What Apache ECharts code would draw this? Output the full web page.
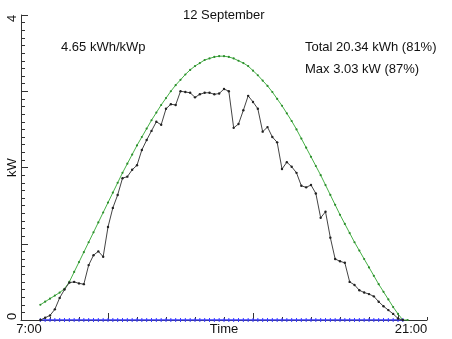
<!DOCTYPE html>
<html><head><meta charset="utf-8">
<script src="https://cdn.jsdelivr.net/npm/echarts@6/dist/echarts.min.js"></script>
<style>html,body{margin:0;padding:0;background:#fff}#c{width:452px;height:339px}</style>
</head><body><div id="c"></div>
<script>
// ---- data ----
const titleText = '12 September';
const yieldText = '4.65 kWh/kWp';
const totalText = 'Total 20.34 kWh (81%)';
const maxText = 'Max 3.03 kW (87%)';
const xAxisName = 'Time';
const yAxisName = 'kW';
const xTickValues = [7, 21];
const xTickLabels = ['7:00', '21:00'];
const xMajorTicks = [10, 15, 20];
const yTickValues = [0, 4];
const yTickLabels = ['0', '4'];

const times = ['7:40','7:50',
 '8:00','8:10','8:20','8:30','8:40','8:50',
 '9:00','9:10','9:20','9:30','9:40','9:50',
 '10:00','10:10','10:20','10:30','10:40','10:50',
 '11:00','11:10','11:20','11:30','11:40','11:50',
 '12:00','12:10','12:20','12:30','12:40','12:50',
 '13:00','13:10','13:20','13:30','13:40','13:50',
 '14:00','14:10','14:20','14:30','14:40','14:50',
 '15:00','15:10','15:20','15:30','15:40','15:50',
 '16:00','16:10','16:20','16:30','16:40','16:50',
 '17:00','17:10','17:20','17:30','17:40','17:50',
 '18:00','18:10','18:20','18:30','18:40','18:50',
 '19:00','19:10','19:20','19:30','19:40','19:50',
 '20:00','20:10','20:20'];

const actualKW = [0.00,0.03,0.06,0.14,0.29,0.40,0.49,0.50,0.48,0.47,
 0.72,0.85,0.90,0.83,1.22,1.47,1.64,1.86,1.88,1.97,
 2.03,2.23,2.36,2.48,2.60,2.56,2.77,2.83,2.82,3.00,
 2.99,2.98,2.92,2.96,2.98,2.98,2.96,2.97,3.03,3.00,
 2.52,2.57,2.75,2.94,2.86,2.77,2.47,2.53,2.40,2.33,
 1.98,2.07,2.01,1.93,1.76,1.74,1.77,1.66,1.34,1.42,
 1.08,0.80,0.77,0.75,0.50,0.46,0.39,0.36,0.34,0.31,
 0.24,0.18,0.13,0.08,0.02,0.00];

const clearSkyKW = [0.20,0.24,0.28,0.32,0.36,0.41,0.50,0.63,0.76,0.89,
 1.02,1.15,1.28,1.41,1.54,1.67,1.80,1.93,2.05,2.17,
 2.29,2.40,2.51,2.62,2.72,2.82,2.91,3.00,3.08,3.15,
 3.22,3.28,3.33,3.37,3.41,3.43,3.45,3.46,3.46,3.45,
 3.43,3.40,3.37,3.33,3.27,3.21,3.14,3.07,2.99,2.90,
 2.81,2.71,2.61,2.50,2.38,2.26,2.14,2.02,1.90,1.77,
 1.64,1.51,1.38,1.26,1.14,1.02,0.91,0.80,0.69,0.58,
 0.47,0.37,0.27,0.17,0.08,0.00,0.00];

const baselineKW = [0,0,0,0,0,0,0,0,0,0, 0,0,0,0,0,0,0,0,0,0,
 0,0,0,0,0,0,0,0,0,0, 0,0,0,0,0,0,0,0,0,0,
 0,0,0,0,0,0,0,0,0,0, 0,0,0,0,0,0,0,0,0,0,
 0,0,0,0,0,0,0,0,0,0, 0,0,0,0,0,0];

// ---- build ----
function toHours(s){ const p = s.split(':'); return +p[0] + (+p[1]) / 60; }
function pairs(vals){ return vals.map((v, i) => [toHours(times[i]), v]); }

const FONT = 'Liberation Sans';
const TXT = '#111';
const AX = '#333';

const chart = echarts.init(document.getElementById('c'), null, {renderer: 'canvas'});
chart.setOption({
  animation: false,
  backgroundColor: '#fff',
  textStyle: {fontFamily: FONT},
  title: {
    text: titleText, left: 183, top: 9, padding: 0,
    textStyle: {fontFamily: FONT, fontSize: 13, fontWeight: 'normal', color: TXT}
  },
  graphic: [
    {type: 'text', left: 61, top: 41, style: {text: yieldText, font: '13px "Liberation Sans"', fill: TXT}},
    {type: 'text', left: 305, top: 41, style: {text: totalText, font: '13px "Liberation Sans"', fill: TXT}},
    {type: 'text', left: 305, top: 63, style: {text: maxText, font: '13px "Liberation Sans"', fill: TXT}}
  ],
  grid: {left: 21, right: 25, top: 15, bottom: 19, containLabel: false, outerBoundsMode: 'none'},
  xAxis: [{
    type: 'value', min: 7, max: 21, interval: 1, position: 'bottom',
    axisLine: {show: true, lineStyle: {color: AX, width: 1}},
    axisTick: {show: true, inside: true, length: 3, lineStyle: {color: AX}},
    splitLine: {show: false},
    axisLabel: {
      customValues: xTickValues, margin: 3, fontSize: 13, color: TXT, fontFamily: FONT, hideOverlap: false,
      formatter: v => { const i = xTickValues.indexOf(v); return i === 0 ? '{l|' + xTickLabels[0] + '}' : (i === 1 ? '{r|' + xTickLabels[1] + '}' : ''); },
      rich: {
        l: {fontSize: 13, fontFamily: FONT, color: TXT, padding: [0, 0, 0, 16]},
        r: {fontSize: 13, fontFamily: FONT, color: TXT, padding: [0, 32, 0, 0]}
      }
    },
    name: xAxisName, nameLocation: 'middle', nameGap: 3, nameMoveOverlap: false,
    nameTextStyle: {fontSize: 13, color: TXT, fontFamily: FONT, verticalAlign: 'top'}
  }, {
    type: 'value', min: 7, max: 21, position: 'bottom',
    axisLine: {show: false},
    axisTick: {show: true, inside: true, length: 7, customValues: xMajorTicks, lineStyle: {color: AX}},
    axisLabel: {show: false},
    splitLine: {show: false}
  }],
  yAxis: {
    type: 'value', min: 0, max: 4, interval: 1,
    axisLine: {show: true, lineStyle: {color: AX, width: 1}},
    axisTick: {show: true, inside: true, length: 7, lineStyle: {color: AX}},
    minorTick: {show: true, splitNumber: 10, length: 4, lineStyle: {color: AX}},
    splitLine: {show: false}, minorSplitLine: {show: false},
    axisLabel: {
      rotate: 90, margin: 2, fontSize: 13, color: TXT, fontFamily: FONT, hideOverlap: false,
      formatter: v => { const i = yTickValues.indexOf(v); return i === 0 ? '{lo|' + yTickLabels[0] + '}' : (i === 1 ? '{hi|' + yTickLabels[1] + '}' : ''); },
      rich: {
        lo: {fontSize: 13, fontFamily: FONT, color: TXT, padding: [0, 0, 0, 7]},
        hi: {fontSize: 13, fontFamily: FONT, color: TXT, padding: [0, 7, 0, 0]}
      }
    },
    name: yAxisName, nameLocation: 'middle', nameRotate: 90, nameGap: 2, nameMoveOverlap: false,
    nameTextStyle: {fontSize: 13, color: TXT, fontFamily: FONT}
  },
  series: [{
    name: 'baseline', type: 'line', xAxisIndex: 0, data: pairs(baselineKW),
    symbol: 'rect', symbolSize: [1, 4], showSymbol: true,
    lineStyle: {color: '#3b3bff', width: 1.3}, itemStyle: {color: '#3b3bff'}, z: 3
  }, {
    name: 'clear sky', type: 'line', xAxisIndex: 0, data: pairs(clearSkyKW),
    symbol: 'circle', symbolSize: 2.2, showSymbol: true,
    lineStyle: {color: '#46b046', width: 1}, itemStyle: {color: '#2c8c2c'}, z: 2
  }, {
    name: 'actual', type: 'line', xAxisIndex: 0, data: pairs(actualKW),
    symbol: 'circle', symbolSize: 2.4, showSymbol: true,
    lineStyle: {color: '#444', width: 1}, itemStyle: {color: '#222'}, z: 4
  }]
});
</script>
</body></html>
